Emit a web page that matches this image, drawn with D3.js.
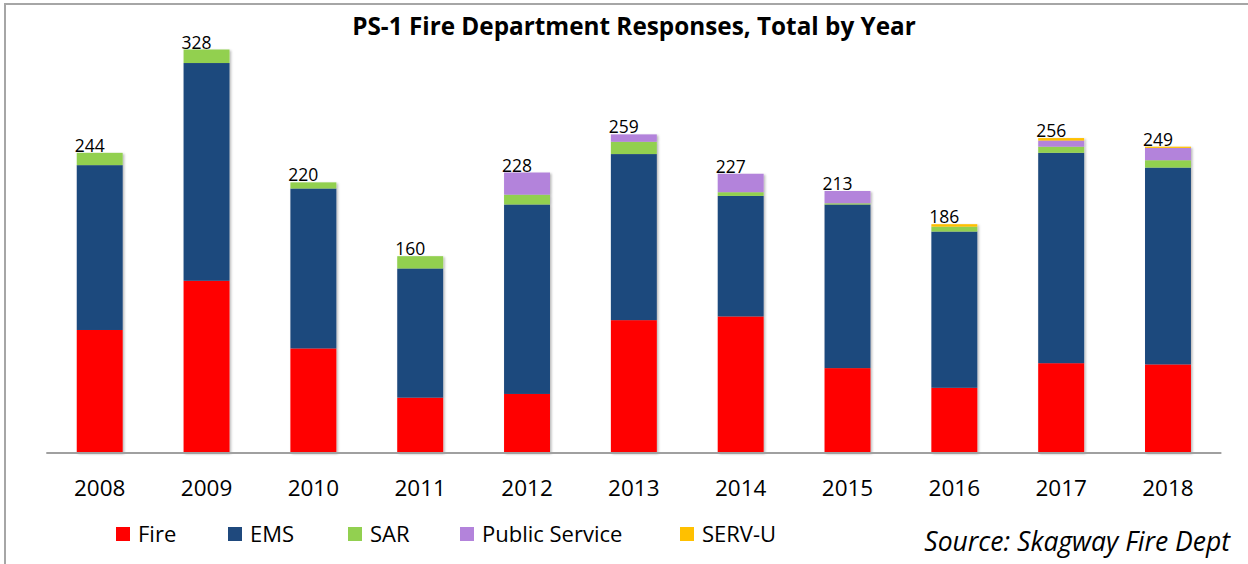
<!DOCTYPE html>
<html>
<head>
<meta charset="utf-8">
<script src="https://cdn.jsdelivr.net/npm/d3@7"></script>
<style>
  html, body { margin: 0; padding: 0; background: #fff; }
  svg { display: block; }
  text { font-family: "Open Sans", Lato, sans-serif; fill: #000; }
</style>
</head>
<body>
<svg id="chart" width="1248" height="564"></svg>
<script>
// Responses per year, split by call type
const years = ["2008", "2009", "2010", "2011", "2012", "2013", "2014", "2015", "2016", "2017", "2018"];
const seriesNames = ["Fire", "EMS", "SAR", "Public Service", "SERV-U"];
const fire          = [100, 140,  85,  45,  48, 108, 111,  69,  53,  73,  72];
const ems           = [134, 177, 130, 105, 154, 135,  98, 133, 127, 171, 160];
const sar           = [ 10,  11,   5,  10,   8,  10,   3,   1,   4,   5,   6];
const publicService = [  0,   0,   0,   0,  18,   6,  15,  10,   0,   5,  10];
const servU         = [  0,   0,   0,   0,   0,   0,   0,   0,   2,   2,   1];
const seriesColors  = ["#FF0000", "#1F497D", "#92D050", "#B383DB", "#FFC000"];

const rows = years.map((yr, i) => ({
  year: yr,
  "Fire": fire[i],
  "EMS": ems[i],
  "SAR": sar[i],
  "Public Service": publicService[i],
  "SERV-U": servU[i]
}));
const totals = rows.map(r => seriesNames.reduce((s, k) => s + r[k], 0));

const svg = d3.select("#chart");

// frame
svg.append("line").attr("x1", 5).attr("x2", 1248).attr("y1", 4).attr("y2", 4)
  .attr("stroke", "#A6A6A6").attr("stroke-width", 2);
svg.append("line").attr("x1", 5).attr("x2", 5).attr("y1", 3).attr("y2", 564)
  .attr("stroke", "#A6A6A6").attr("stroke-width", 2);

// soft shadow under each bar
const defs = svg.append("defs");
const f = defs.append("filter").attr("id", "barShadow")
  .attr("x", "-20%").attr("y", "-5%").attr("width", "140%").attr("height", "110%");
f.append("feDropShadow").attr("dx", 1.5).attr("dy", 1).attr("stdDeviation", 1.2)
  .attr("flood-color", "#000").attr("flood-opacity", 0.28);

const x = d3.scaleBand().domain(years).range([46.3, 1221.4])
  .paddingInner(0.57).paddingOuter(0.285);
const y = d3.scaleLinear().domain([0, d3.max(totals)]).range([453, 49.5]);

const stack = d3.stack().keys(seriesNames);
const layers = stack(rows);

// bars
const barsG = svg.append("g").attr("filter", "url(#barShadow)");
barsG.selectAll("g.series").data(layers).join("g")
  .attr("class", "series")
  .attr("fill", (d, i) => seriesColors[i])
  .selectAll("rect").data(d => d).join("rect")
  .attr("x", d => x(d.data.year))
  .attr("width", x.bandwidth())
  .attr("y", d => y(d[1]))
  .attr("height", d => Math.max(0, y(d[0]) - y(d[1])));

// category axis
const axis = svg.append("g").attr("transform", "translate(0,453)")
  .call(d3.axisBottom(x).tickSize(0).tickPadding(27));
axis.select(".domain").attr("stroke", "#A0A0A0").attr("stroke-width", 2)
  .attr("d", "M" + x.range()[0] + ",0H" + x.range()[1]);
axis.selectAll(".tick text")
  .attr("font-family", "'Open Sans', Lato, sans-serif")
  .attr("font-size", 22.5).attr("fill", "#000");

// totals above each bar
svg.append("g").selectAll("text").data(rows).join("text")
  .attr("x", (d, i) => x(d.year) + x.bandwidth() / 2 - 10)
  .attr("y", (d, i) => y(totals[i]) - 1)
  .attr("text-anchor", "middle")
  .attr("font-size", 17.5)
  .text((d, i) => totals[i]);

// title
svg.append("text")
  .attr("x", 634).attr("y", 35)
  .attr("text-anchor", "middle")
  .attr("font-size", 24.3).attr("font-weight", 700)
  .text("PS-1 Fire Department Responses, Total by Year");

// legend
const legendX = [116, 228, 348, 460, 680];
const legend = svg.append("g").selectAll("g").data(seriesNames).join("g")
  .attr("transform", (d, i) => `translate(${legendX[i]},527)`);
legend.append("rect").attr("width", 14).attr("height", 14)
  .attr("fill", (d, i) => seriesColors[i]);
legend.append("text").attr("x", 22).attr("y", 14.5)
  .attr("font-size", 22).text(d => d);

// source note
svg.append("text")
  .attr("x", 1230).attr("y", 551)
  .attr("text-anchor", "end")
  .attr("font-size", 26.5).attr("font-style", "italic")
  .text("Source: Skagway Fire Dept");
</script>
</body>
</html>
